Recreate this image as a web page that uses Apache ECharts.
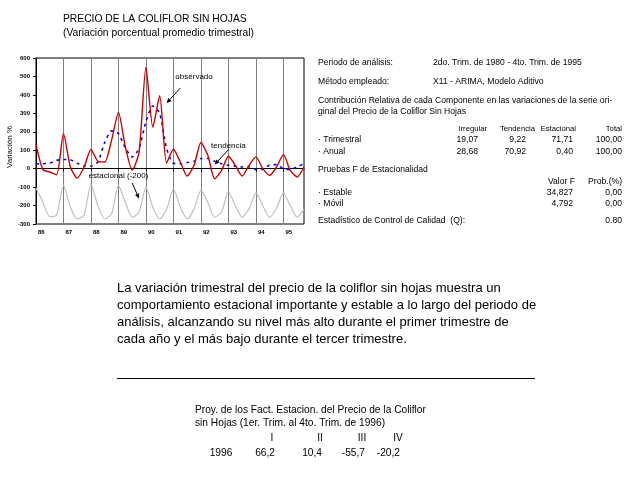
<!DOCTYPE html>
<html><head><meta charset="utf-8">
<script src="https://cdn.jsdelivr.net/npm/echarts/dist/echarts.min.js"></script>
<style>html,body{margin:0;padding:0;background:#fff}#c{width:640px;height:480px}</style>
</head><body><div id="c"></div>
<script>
// ---- data (quarterly, 1986-I .. 1995-IV) ----
const years = ['86','87','88','89','90','91','92','93','94','95'];
const quarters = ['I','II','III','IV'];
const observado = [
  130, -5, -18, -33,
  190, 9, -51, 9,
  104, 40, 36, 155,
  305, 118, -9, 90,
  550, 225, 395, 30,
  105, 36, -40, 18,
  142, 73, -55, -9,
  67, 18, -40, 18,
  64, 0, -36, 9,
  76, -9, -45, 9
];
const tendencia = [
  27, 27, 30, 45,
  50, 48, 30, 15,
  14, 36, 142, 205,
  190, 112, 63, 110,
  255, 340, 300, 110,
  29, 27, 33, 40,
  55, 55, 40, 27,
  18, 14, 9, 10,
  -4, -4, 20, 22,
  0, -4, 10, 27
];
const estacional = [
  95, 18, -60, -51,
  109, -9, -73, -51,
  113, 0, -73, -45,
  109, 18, -64, -36,
  100, -9, -73, -22,
  91, -9, -73, -18,
  82, 18, -64, -36,
  76, 0, -64, -18,
  67, 0, -64, -15,
  67, 0, -64, -18
];
const estacionalDesplazamiento = -200;
const yMin = -300, yMax = 600, yStep = 100;

// ---- text content ----
const titulo = 'PRECIO DE LA COLIFLOR SIN HOJAS';
const subtitulo = '(Variación porcentual promedio trimestral)';
const ejeY = 'Variación %';
const contribCols = ['Irregular', 'Tendencia', 'Estacional', 'Total'];
const contribTrimestral = ['19,07', '9,22', '71,71', '100,00'];
const contribAnual = ['28,68', '70,92', '0,40', '100,00'];
const pruebaCols = ['Valor F', 'Prob.(%)'];
const pruebaEstable = ['34,827', '0,00'];
const pruebaMovil = ['4,792', '0,00'];
const estadisticoQ = '0.80';
const parrafo = [
  'La variación trimestral del precio de la coliflor sin hojas muestra un',
  'comportamiento estacional importante y estable a lo largo del periodo de',
  'análisis, alcanzando su nivel más alto durante el primer trimestre de',
  'cada año y el más bajo durante el tercer trimestre.'
];
const proyTrim = ['I', 'II', 'III', 'IV'];
const proyAnio = '1996';
const proyValores = ['66,2', '10,4', '-55,7', '-20,2'];
// annotations in data coordinates [quarter index, value]
const anotaciones = [
  {text: 'observado', at: [23.1, 496], from: [21.4, 437], to: [19.1, 355]},
  {text: 'tendencia', at: [28.2, 124], from: [28.0, 103], to: [26.05, 22]},
  {text: 'estacional (-200)', at: [11.6, -36], from: [14.26, -78], to: [15.13, -163]}
];

const categorias = [];
years.forEach(y => quarters.forEach(q => categorias.push(y + '-' + q)));

const FONT = '"Liberation Sans", Arial, sans-serif';
const chart = echarts.init(document.getElementById('c'), null, {renderer: 'canvas'});
const q1 = (idx) => idx % 4 === 0;
const SM = 0.22;

chart.setOption({
  backgroundColor: '#fff',
  animation: false,
  grid: {left: 36, top: 58, width: 268, height: 166, show: true, borderColor: '#000', borderWidth: 1, backgroundColor: 'transparent'},
  xAxis: {
    type: 'category', data: categorias, boundaryGap: false,
    axisLine: {show: true, lineStyle: {color: '#000', width: 1}},
    axisTick: {show: true, interval: (i) => q1(i), length: 3, lineStyle: {color: '#000'}},
    axisLabel: {interval: (i) => q1(i), formatter: (v) => v.split('-')[0], fontSize: 6, fontWeight: 'bold', color: '#000', align: 'left', margin: 5, fontFamily: FONT, padding: [0,0,0,2]},
    splitLine: {show: true, interval: (i) => q1(i) && i > 0, lineStyle: {color: '#808080', width: 1}}
  },
  yAxis: {
    type: 'value', min: yMin, max: yMax, interval: yStep,
    name: ejeY, nameLocation: 'middle', nameRotate: 90, nameGap: 22,
    nameTextStyle: {fontSize: 8, color: '#000', fontFamily: FONT, padding: [0, 0, 0, -12]},
    axisLine: {show: true, lineStyle: {color: '#000', width: 1}},
    axisTick: {show: true, length: 3, lineStyle: {color: '#000'}},
    axisLabel: {fontSize: 6, fontWeight: 'bold', color: '#000', margin: 6, fontFamily: FONT},
    splitLine: {show: false}
  },
  series: [
    {name: 'estacional', type: 'line', data: estacional.map(v => v + estacionalDesplazamiento), smooth: SM, symbol: 'none',
     lineStyle: {color: '#c0c0c0', width: 1.2}},
    {name: 'tendencia', type: 'line', data: tendencia, smooth: SM, symbol: 'none',
     lineStyle: {color: '#0000ff', width: 1.6, type: [3, 4]}},
    {name: 'observado', type: 'line', data: observado, smooth: SM, symbol: 'none',
     lineStyle: {color: '#cc0000', width: 1.4}}
  ]
});

function txt(x, y, s, size, align, extra) {
  return Object.assign({type: 'text', x: x, y: y, silent: true,
    style: {text: s, fill: '#000', font: size + 'px ' + FONT, textAlign: align || 'left', align: align || 'left',
      textVerticalAlign: 'middle', verticalAlign: 'middle'}}, extra || {});
}

const g = [];
// title
g.push(txt(63, 19, titulo, 10.3, 'left'));
g.push(txt(63, 33, subtitulo, 10.3, 'left'));

// annotations
anotaciones.forEach(a => {
  const p = chart.convertToPixel({gridIndex: 0}, a.at);
  const f = chart.convertToPixel({gridIndex: 0}, a.from);
  const t = chart.convertToPixel({gridIndex: 0}, a.to);
  g.push(txt(p[0], p[1], a.text, 8, 'center'));
  const ang = Math.atan2(t[1] - f[1], t[0] - f[0]);
  const L = 5, W = 2.2;
  const bx = t[0] - L * Math.cos(ang), by = t[1] - L * Math.sin(ang);
  g.push({type: 'line', silent: true, shape: {x1: f[0], y1: f[1], x2: bx, y2: by}, style: {stroke: '#000', lineWidth: 1}});
  g.push({type: 'polygon', silent: true, shape: {points: [
    [t[0], t[1]],
    [bx + W * Math.sin(ang), by - W * Math.cos(ang)],
    [bx - W * Math.sin(ang), by + W * Math.cos(ang)]
  ]}, style: {fill: '#000'}});
});

// right block
const RS = 8.6, HS = 7.7, LX = 318;
g.push(txt(LX, 63, 'Periodo de análisis:', RS));
g.push(txt(433, 63, '2do. Trim. de 1980 - 4to. Trim. de 1995', RS));
g.push(txt(LX, 82, 'Método empleado:', RS));
g.push(txt(433, 82, 'X11 - ARIMA, Modelo Aditivo', RS));
g.push(txt(LX, 101, 'Contribución Relativa de cada Componente en las variaciones de la serie ori-', RS));
g.push(txt(LX, 112, 'ginal del Precio de la Coliflor Sin Hojas', RS));
const hdrX = [487, 535, 576, 622];
const numX = [478, 526, 573, 622];
contribCols.forEach((c, k) => g.push(txt(hdrX[k], 129, c, HS, 'right')));
g.push(txt(LX, 140, '· Trimestral', RS));
contribTrimestral.forEach((c, k) => g.push(txt(numX[k], 140, c, RS, 'right')));
g.push(txt(LX, 152, '· Anual', RS));
contribAnual.forEach((c, k) => g.push(txt(numX[k], 152, c, RS, 'right')));
g.push(txt(LX, 170, 'Pruebas F de Estacionalidad', RS));
const prX = [575, 622], prNX = [573, 622];
pruebaCols.forEach((c, k) => g.push(txt(prX[k], 182, c, RS, 'right')));
g.push(txt(LX, 193, '· Estable', RS));
pruebaEstable.forEach((c, k) => g.push(txt(prNX[k], 193, c, RS, 'right')));
g.push(txt(LX, 204, '· Móvil', RS));
pruebaMovil.forEach((c, k) => g.push(txt(prNX[k], 204, c, RS, 'right')));
g.push(txt(LX, 221, 'Estadístico de Control de Calidad  (Q):', RS));
g.push(txt(622, 221, estadisticoQ, RS, 'right'));

// paragraph
const pY = [288, 305, 322, 339];
parrafo.forEach((s, k) => g.push(txt(117, pY[k], s, 13)));
g.push({type: 'line', silent: true, shape: {x1: 117, y1: 378.5, x2: 535, y2: 378.5}, style: {stroke: '#000', lineWidth: 1}});

// projection table
const TS = 10.2;
g.push(txt(195, 410, 'Proy. de los Fact. Estacion. del Precio de la Coliflor', TS));
g.push(txt(195, 423, 'sin Hojas (1er. Trim. al 4to. Trim. de 1996)', TS));
const trX = [272, 320, 362, 398];
proyTrim.forEach((c, k) => g.push(txt(trX[k], 438, c, TS, 'center')));
g.push(txt(221, 453, proyAnio, TS, 'center'));
const pvX = [275, 322, 365, 400];
proyValores.forEach((c, k) => g.push(txt(pvX[k], 453, c, TS, 'right')));

chart.setOption({graphic: {elements: g}});
</script>
</body></html>
